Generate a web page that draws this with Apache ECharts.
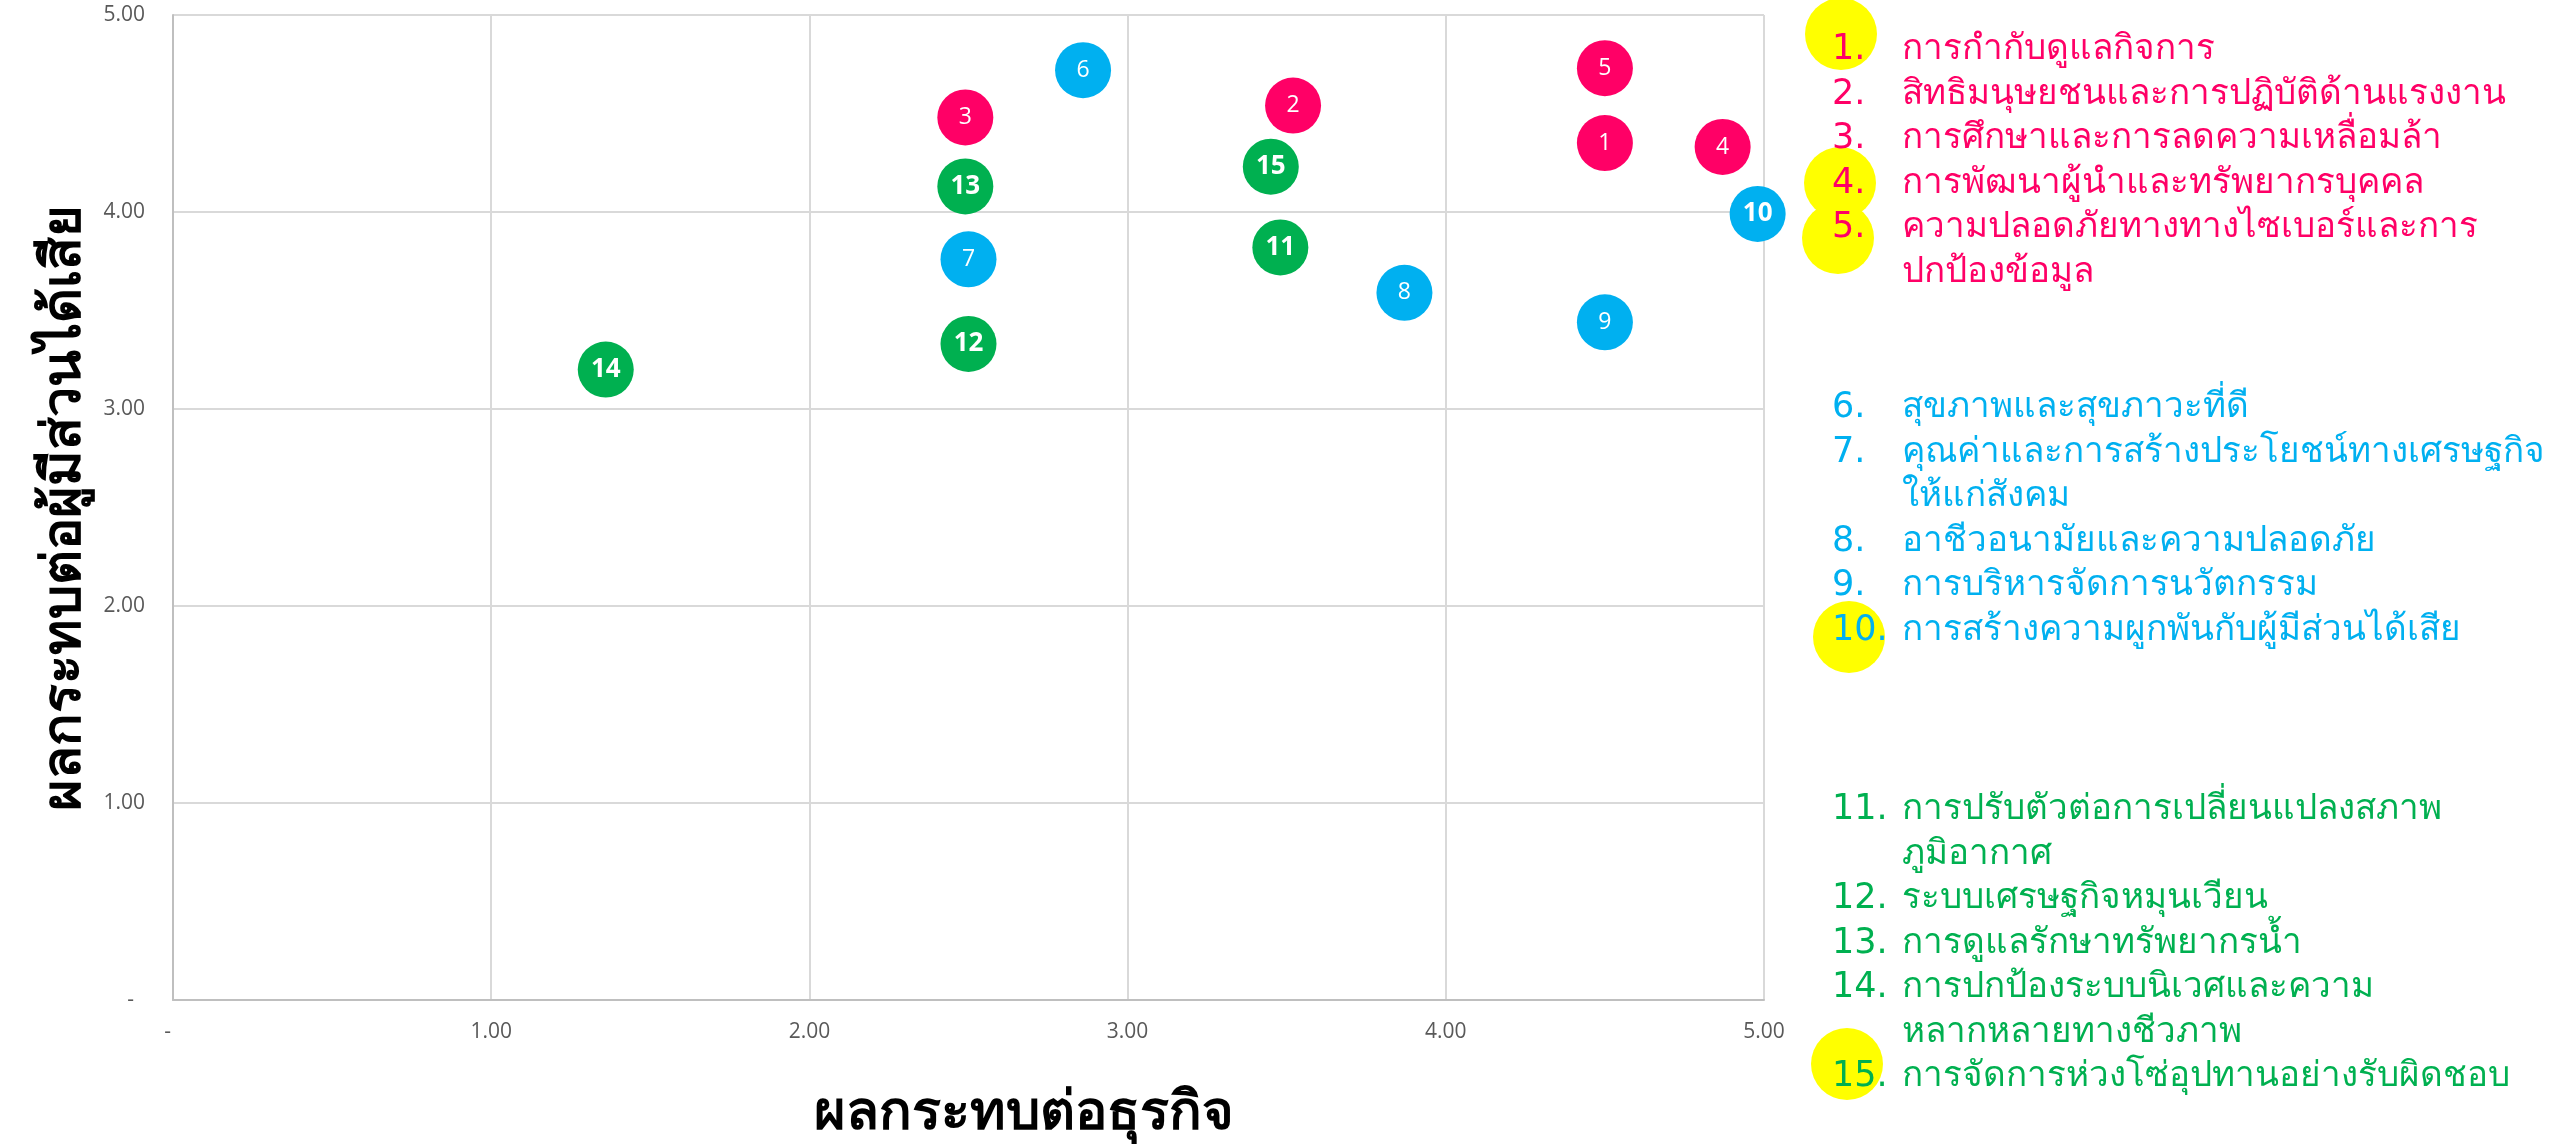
<!DOCTYPE html>
<html>
<head>
<meta charset="utf-8">
<script src="https://cdn.jsdelivr.net/npm/echarts@6/dist/echarts.min.js"></script>
<style>
  html, body { margin: 0; padding: 0; background: #fff; }
  #myChart { width: 2552px; height: 1145px; }
</style>
</head>
<body>
<div id="myChart"></div>
<script>
// หัวข้อ (ลำดับ 1-15)
const topicIds = [1, 2, 3, 4, 5, 6, 7, 8, 9, 10, 11, 12, 13, 14, 15];
const topicNames = [
  "การกำกับดูแลกิจการ",
  "สิทธิมนุษยชนและการปฏิบัติด้านแรงงาน",
  "การศึกษาและการลดความเหลื่อมล้า",
  "การพัฒนาผู้นำและทรัพยากรบุคคล",
  "ความปลอดภัยทางทางไซเบอร์และการ\nปกป้องข้อมูล",
  "สุขภาพและสุขภาวะที่ดี",
  "คุณค่าและการสร้างประโยชน์ทางเศรษฐกิจ\nให้แก่สังคม",
  "อาชีวอนามัยและความปลอดภัย",
  "การบริหารจัดการนวัตกรรม",
  "การสร้างความผูกพันกับผู้มีส่วนได้เสีย",
  "การปรับตัวต่อการเปลี่ยนแปลงสภาพ\nภูมิอากาศ",
  "ระบบเศรษฐกิจหมุนเวียน",
  "การดูแลรักษาทรัพยากรน้ำ",
  "การปกป้องระบบนิเวศและความ\nหลากหลายทางชีวภาพ",
  "การจัดการห่วงโซ่อุปทานอย่างรับผิดชอบ"
];
// ผลกระทบต่อธุรกิจ (แกน x)
const businessImpact = [4.50, 3.52, 2.49, 4.87, 4.50, 2.86, 2.50, 3.87, 4.50, 4.98, 3.48, 2.50, 2.49, 1.36, 3.45];
// ผลกระทบต่อผู้มีส่วนได้เสีย (แกน y)
const stakeholderImpact = [4.35, 4.54, 4.48, 4.33, 4.73, 4.72, 3.76, 3.59, 3.44, 3.99, 3.82, 3.33, 4.13, 3.20, 4.23];
// กลุ่มสี
const groupNames = ["กลุ่ม 1", "กลุ่ม 2", "กลุ่ม 3"];
const groupMembers = [[1, 2, 3, 4, 5], [6, 7, 8, 9, 10], [11, 12, 13, 14, 15]];
const groupColors = ["#FF0066", "#00B0F0", "#00B050"];
// หัวข้อที่มีวงกลมสีเหลือง
const highlighted = [1, 4, 5, 10, 15];

const FONT = "'DejaVu Sans', 'Noto Sans', sans-serif";

let myChart = echarts.init(document.getElementById("myChart"));

// series ของแต่ละกลุ่ม
const series = groupMembers.map((members, g) => ({
  name: groupNames[g],
  type: "scatter",
  symbolSize: 56,
  itemStyle: { color: groupColors[g], opacity: 1 },
  label: {
    show: true,
    position: "inside",
    color: "#fff",
    fontSize: 23,
    fontFamily: "'Open Sans', sans-serif",
    formatter: p => String(p.value[2])
  },
  data: members.map(id => {
    const i = topicIds.indexOf(id);
    return {
      value: [businessImpact[i], stakeholderImpact[i], id],
      label: id >= 10 ? { fontWeight: "bold", fontSize: 26 } : {}
    };
  })
}));

// คำอธิบายด้านขวา
const graphics = [];
// วงกลมเหลือง (วาดด้วยมือในต้นฉบับ)
const yellowSpots = { 1: [1841, 34], 4: [1840, 183], 5: [1838, 238], 10: [1849, 637], 15: [1847, 1064] };
highlighted.forEach(id => {
  graphics.push({
    type: "circle",
    shape: { cx: yellowSpots[id][0], cy: yellowSpots[id][1], r: 36 },
    style: { fill: "#FFFF00" },
    z: 1
  });
});
const groupTop = [50, 408, 810];
const lineH = 44.5;
groupMembers.forEach((members, g) => {
  let line = 0;
  members.forEach(id => {
    const i = topicIds.indexOf(id);
    const y = groupTop[g] + line * lineH - lineH / 2;
    graphics.push({
      type: "text", left: 1832, top: y, z: 2,
      style: { text: id + ".", fill: groupColors[g], fontSize: 35, fontFamily: FONT, lineHeight: lineH }
    });
    graphics.push({
      type: "text", left: 1902, top: y, z: 2,
      style: { text: topicNames[i], fill: groupColors[g], fontSize: 35, fontFamily: FONT, lineHeight: lineH }
    });
    line += topicNames[i].split("\n").length;
  });
});

// แบบ Excel: ศูนย์แสดงเป็น "-"
const tickFmt = v => (v === 0 ? "-  " : v.toFixed(2));

myChart.setOption({
  animation: false,
  grid: { left: 173, right: 788, top: 15, bottom: 145, outerBoundsMode: "none" },
  xAxis: {
    type: "value",
    min: 0, max: 5, interval: 1,
    name: "ผลกระทบต่อธุรกิจ",
    nameLocation: "middle",
    nameGap: 88,
    nameTextStyle: { fontSize: 54, fontWeight: "bold", color: "#000", fontFamily: FONT, padding: [0, 0, 0, 110] },
    axisLine: { lineStyle: { color: "#BFBFBF", width: 2 } },
    axisTick: { show: false },
    axisLabel: { color: "#595959", fontSize: 21, fontFamily: "'Open Sans', sans-serif", margin: 22, formatter: tickFmt },
    splitLine: { lineStyle: { color: "#D9D9D9", width: 2 } }
  },
  yAxis: {
    type: "value",
    min: 0, max: 5, interval: 1,
    name: "ผลกระทบต่อผู้มีส่วนได้เสีย",
    nameLocation: "middle",
    nameGap: 80,
    nameRotate: 90,
    nameTextStyle: { fontSize: 54, fontWeight: "bold", color: "#000", fontFamily: FONT },
    axisLine: { show: true, lineStyle: { color: "#BFBFBF", width: 2 } },
    axisTick: { show: false },
    axisLabel: { color: "#595959", fontSize: 21, fontFamily: "'Open Sans', sans-serif", margin: 28, formatter: tickFmt },
    splitLine: { lineStyle: { color: "#D9D9D9", width: 2 } }
  },
  graphic: graphics,
  series: series
});
</script>
</body>
</html>
